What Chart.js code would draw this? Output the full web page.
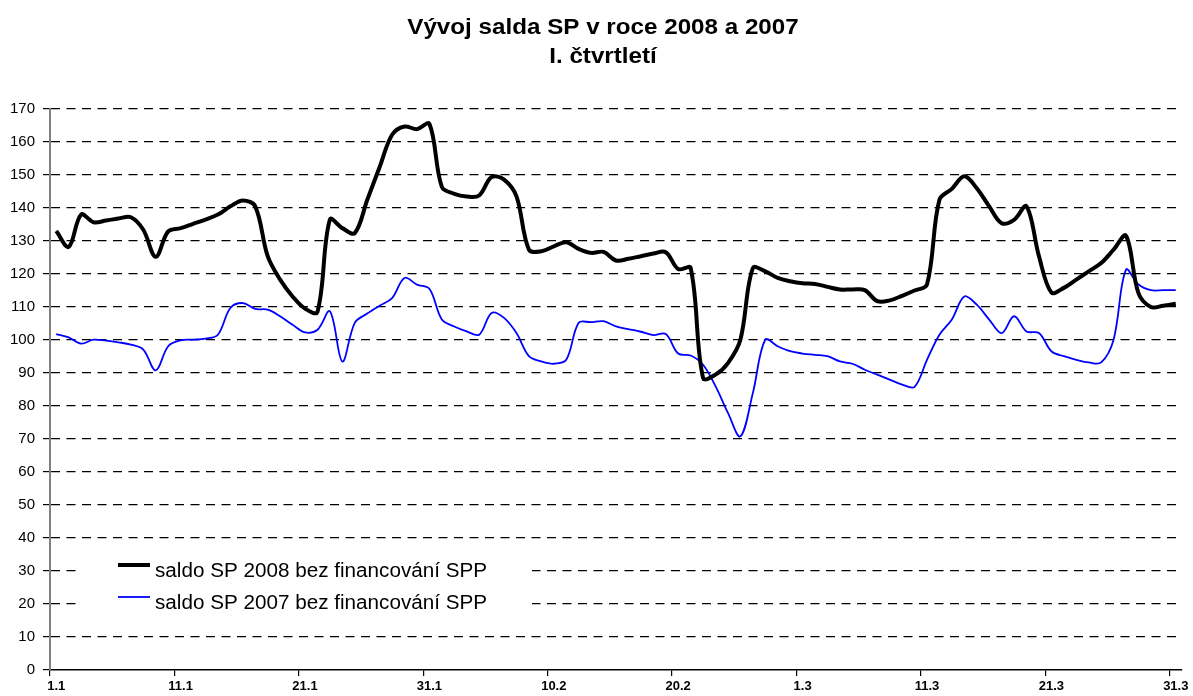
<!DOCTYPE html>
<html>
<head>
<meta charset="utf-8">
<script src="https://cdn.jsdelivr.net/npm/chart.js@4.4.1/dist/chart.umd.min.js"></script>
<style>
html,body{margin:0;padding:0;background:#fff;}
#wrap{width:1193px;height:696px;}
</style>
</head>
<body>
<div id="wrap"><canvas id="c" width="1193" height="696"></canvas></div>
<script>
const titleLines = ['Vývoj salda SP v roce 2008 a 2007', 'I. čtvrtletí'];

const dates = [
 '1.1','2.1','3.1','4.1','5.1','6.1','7.1','8.1','9.1','10.1',
 '11.1','12.1','13.1','14.1','15.1','16.1','17.1','18.1','19.1','20.1',
 '21.1','22.1','23.1','24.1','25.1','26.1','27.1','28.1','29.1','30.1','31.1',
 '1.2','2.2','3.2','4.2','5.2','6.2','7.2','8.2','9.2','10.2',
 '11.2','12.2','13.2','14.2','15.2','16.2','17.2','18.2','19.2','20.2',
 '21.2','22.2','23.2','24.2','25.2','26.2','27.2','28.2','29.2',
 '1.3','2.3','3.3','4.3','5.3','6.3','7.3','8.3','9.3','10.3',
 '11.3','12.3','13.3','14.3','15.3','16.3','17.3','18.3','19.3','20.3',
 '21.3','22.3','23.3','24.3','25.3','26.3','27.3','28.3','29.3','30.3','31.3'
];

const tickDates = ['1.1','11.1','21.1','31.1','10.2','20.2','1.3','11.3','21.3','31.3'];

const label2008 = 'saldo SP 2008 bez financování SPP';
const label2007 = 'saldo SP 2007 bez financování SPP';

const saldo2008 = [
 133, 128.2, 138, 135.7, 136.2, 136.8, 137.2, 133.4, 125.2, 132.9,
 133.9, 135.2, 136.5, 138, 140.5, 142.3, 140.5, 125.4, 118.3, 113.2,
 109.5, 108.5, 136.5, 133.9, 132.4, 142.4, 152.4, 162.2, 164.7, 163.9,
 165.5, 146.4, 144.3, 143.5, 143.8, 149.4, 148.6, 143.5, 127.4, 126.9,
 128.4, 129.6, 127.6, 126.4, 126.7, 124.1, 124.6, 125.4, 126.2, 126.6,
 121.5, 121.8, 88.5, 89.5, 93, 100.1, 121.8, 120.8, 118.8, 117.8,
 117.2, 117, 116.1, 115.3, 115.3, 115.1, 111.8, 112, 113.4, 115,
 116.8, 142.5, 145.8, 149.6, 146, 140.5, 135.4, 136.4, 140.5, 125.4,
 114.4, 115.8, 118.3, 120.8, 123.3, 127.4, 131.6, 114.2, 110, 110.4, 111
];

const saldo2007 = [
 101.8, 100.8, 98.9, 100.1, 99.8, 99.3, 98.6, 97.1, 90.8, 98.1,
 99.9, 100.1, 100.4, 101.6, 109.7, 111.2, 109.4, 109.2, 107.2, 104.6,
 102.3, 103.1, 108.7, 93.5, 105.2, 108, 110.4, 112.7, 118.8, 116.8,
 115.5, 106.2, 104.1, 102.6, 101.6, 108.2, 106.7, 102.1, 95.1, 93.5,
 92.8, 94, 105.2, 105.4, 105.7, 104.1, 103.3, 102.5, 101.5, 101.8,
 95.9, 95.3, 92.5, 86, 77.9, 70.8, 83.9, 100.1, 98.1, 96.6,
 95.9, 95.5, 95.1, 93.5, 92.8, 91, 89.5, 88, 86.5, 85.8,
 94, 101.6, 106.2, 113.2, 110.7, 106.2, 102.1, 107.2, 102.6, 102.1,
 96.6, 95.1, 94, 93.2, 93.2, 100.1, 121.3, 116.8, 115.1, 115.1, 115.1
];

const yMin = 0, yMax = 170, yStep = 10;

const FONT = '"Liberation Sans", Arial, Helvetica, sans-serif';

const stretchedTitle = {
  id: 'stretchedTitle',
  afterDraw(chart) {
    const {ctx, chartArea} = chart;
    const cx = (chartArea.left + chartArea.right) / 2 - 13;
    ctx.save();
    ctx.fillStyle = '#000';
    ctx.font = 'bold 22px ' + FONT;
    ctx.textAlign = 'center';
    ctx.textBaseline = 'alphabetic';
    titleLines.forEach((line, k) => {
      ctx.save();
      ctx.translate(cx, 33.5 + k * 29.3);
      ctx.scale(1.1, 1);
      ctx.fillText(line, 0, 0);
      ctx.restore();
    });
    ctx.restore();
  }
};

const floatingLegend = {
  id: 'floatingLegend',
  beforeDatasetsDraw(chart) {
    const {ctx, chartArea} = chart;
    const x0 = chartArea.left + 27;
    const y0 = chartArea.bottom - 125;
    ctx.save();
    ctx.fillStyle = '#ffffff';
    ctx.fillRect(x0, y0, 455, 80);
    ctx.font = '19.5px ' + FONT;
    ctx.textBaseline = 'alphabetic';
    ctx.textAlign = 'left';
    chart.data.datasets.forEach((ds, k) => {
      const ly = y0 + 20 + k * 32;
      ctx.strokeStyle = ds.borderColor;
      ctx.lineWidth = ds.borderWidth;
      ctx.beginPath();
      ctx.moveTo(x0 + 41, ly);
      ctx.lineTo(x0 + 73, ly);
      ctx.stroke();
      ctx.fillStyle = '#000';
      ctx.save();
      ctx.translate(x0 + 78, ly + 12);
      ctx.scale(1.06, 1);
      ctx.fillText(ds.label, 0, 0);
      ctx.restore();
    });
    ctx.restore();
  }
};

new Chart(document.getElementById('c'), {
  type: 'line',
  data: {
    labels: dates,
    datasets: [
      {
        label: label2008,
        data: saldo2008,
        borderColor: '#000000',
        borderWidth: 4,
        pointRadius: 0,
        tension: 0.35,
        fill: false
      },
      {
        label: label2007,
        data: saldo2007,
        borderColor: '#0000ff',
        borderWidth: 1.8,
        pointRadius: 0,
        tension: 0.35,
        fill: false
      }
    ]
  },
  options: {
    responsive: false,
    animation: false,
    devicePixelRatio: 1,
    layout: { padding: { left: 0, right: 11, top: 109, bottom: 0 } },
    plugins: {
      legend: { display: false },
      tooltip: { enabled: false },
      title: { display: false }
    },
    scales: {
      x: {
        type: 'category',
        offset: true,
        afterFit(scale) { scale.height = 26; },
        grid: {
          display: true,
          offset: true,
          drawOnChartArea: false,
          drawTicks: true,
          tickLength: 6,
          lineWidth: 1.2,
          color: (ctx) => (ctx.index % 10 === 0 ? '#000' : 'rgba(0,0,0,0)'),
          tickColor: (ctx) => (ctx.index % 10 === 0 ? '#000' : 'rgba(0,0,0,0)')
        },
        border: { display: true, color: '#000', width: 1.5 },
        ticks: {
          autoSkip: false,
          maxRotation: 0,
          minRotation: 0,
          padding: 3,
          color: '#000',
          font: { family: FONT, size: 13, weight: 'bold' },
          callback: function (val, idx) {
            const d = dates[idx];
            return tickDates.includes(d) ? d : '';
          }
        }
      },
      y: {
        min: yMin,
        max: yMax,
        afterFit(scale) { scale.width = 50; },
        grid: {
          display: true,
          drawTicks: true,
          tickLength: 7,
          lineWidth: 1.2,
          color: (ctx) => (ctx.tick && ctx.tick.value === 0 ? 'rgba(0,0,0,0)' : '#000'),
          tickColor: '#000',
          tickBorderDash: []
        },
        border: { display: true, color: '#808080', width: 2, dash: [9, 6.5] },
        ticks: {
          stepSize: yStep,
          padding: 8,
          color: '#000',
          font: { family: FONT, size: 15 }
        }
      }
    }
  },
  plugins: [stretchedTitle, floatingLegend]
});
</script>
</body>
</html>
